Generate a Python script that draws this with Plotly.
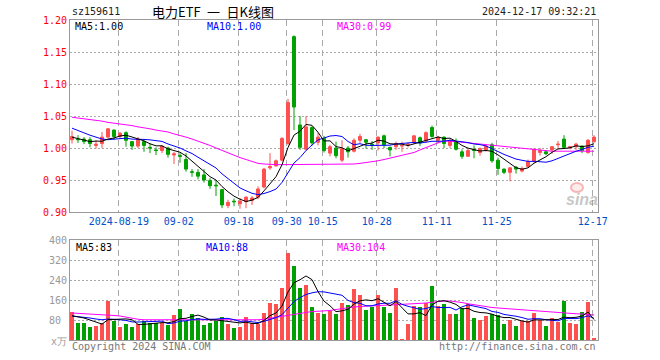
import plotly.graph_objects as go
import numpy as np

# ---------------- data ----------------
tick_idx = [8, 18, 28, 36, 42, 51, 61, 71, 87]
tick_labels = ["2024-08-19", "09-02", "09-18", "09-30", "10-15", "10-28", "11-11", "11-25", "12-17"]

open_ = [1.013, 1.014, 1.014, 1.013, 1.004, 1.007, 1.017, 1.028, 1.018, 1.024,
         1.010, 1.003, 1.010, 1.001, 0.997, 0.996, 1.000, 0.989, 0.988, 0.982,
         0.963, 0.962, 0.958, 0.949, 0.942, 0.935, 0.910, 0.917, 0.913, 0.916,
         0.918, 0.923, 0.939, 0.969, 0.972, 0.981, 1.007, 1.174, 1.036, 0.998,
         1.032, 1.009, 1.015, 0.992, 1.000, 0.981, 1.000, 0.995, 1.012, 1.013,
         1.006, 1.008, 1.019, 1.001, 1.002, 1.003, 1.005, 1.009, 1.016, 1.011,
         1.032, 1.012, 1.017, 1.004, 1.010, 0.994, 0.987, 0.998, 0.993, 0.997,
         1.005, 0.981, 0.967, 0.962, 0.970, 0.964, 0.971, 0.979, 0.993, 0.994,
         0.997, 1.005, 1.014, 1.000, 1.002, 1.003, 0.993, 1.010]
high = [1.027, 1.020, 1.017, 1.017, 1.012, 1.025, 1.031, 1.029, 1.025, 1.026,
        1.011, 1.017, 1.012, 1.007, 1.001, 1.004, 1.002, 0.994, 0.992, 0.992,
        0.967, 0.967, 0.967, 0.953, 0.949, 0.936, 0.919, 0.921, 0.922, 0.925,
        0.925, 0.940, 0.969, 0.992, 0.982, 1.017, 1.077, 1.176, 1.050, 1.050,
        1.034, 1.024, 1.019, 1.005, 1.010, 1.012, 1.003, 1.015, 1.022, 1.014,
        1.011, 1.018, 1.021, 1.002, 1.010, 1.010, 1.009, 1.020, 1.018, 1.026,
        1.035, 1.019, 1.018, 1.014, 1.015, 0.998, 0.999, 1.004, 1.001, 1.005,
        1.008, 0.985, 0.968, 0.970, 0.972, 0.971, 0.982, 0.999, 1.000, 0.996,
        1.003, 1.011, 1.020, 1.003, 1.008, 1.004, 1.014, 1.020]
low = [1.007, 1.008, 1.006, 1.001, 0.999, 1.000, 1.016, 1.013, 1.014, 1.002,
       0.997, 1.000, 0.994, 0.992, 0.989, 0.992, 0.985, 0.975, 0.977, 0.963,
       0.955, 0.951, 0.946, 0.936, 0.925, 0.906, 0.906, 0.909, 0.905, 0.906,
       0.911, 0.920, 0.937, 0.966, 0.971, 0.979, 1.005, 1.028, 0.997, 0.996,
       1.004, 1.004, 0.993, 0.987, 0.984, 0.978, 0.985, 0.993, 1.008, 0.999,
       0.997, 0.996, 1.000, 0.987, 0.997, 0.994, 1.001, 1.006, 1.003, 1.008,
       1.016, 1.008, 1.000, 1.000, 0.996, 0.983, 0.986, 0.984, 0.988, 0.994,
       0.977, 0.958, 0.959, 0.948, 0.960, 0.962, 0.970, 0.977, 0.988, 0.989,
       0.991, 0.998, 0.999, 0.998, 0.997, 0.992, 0.991, 1.008]
close = [1.018, 1.013, 1.010, 1.007, 1.006, 1.017, 1.030, 1.018, 1.023, 1.012,
         1.003, 1.014, 1.004, 1.000, 0.996, 1.003, 0.990, 0.991, 0.987, 0.967,
         0.962, 0.956, 0.950, 0.941, 0.941, 0.911, 0.915, 0.916, 0.917, 0.923,
         0.922, 0.936, 0.967, 0.971, 0.980, 1.015, 1.071, 1.064, 1.001, 1.033,
         1.008, 1.017, 0.996, 1.002, 0.988, 0.999, 0.994, 1.012, 1.018, 1.009,
         1.005, 1.017, 1.005, 0.997, 1.007, 1.004, 1.006, 1.019, 1.008, 1.024,
         1.018, 1.017, 1.007, 1.011, 0.998, 0.987, 0.996, 0.996, 0.999, 1.003,
         0.980, 0.968, 0.962, 0.969, 0.967, 0.968, 0.979, 0.998, 0.996, 0.991,
         1.002, 1.006, 1.001, 1.002, 1.006, 0.996, 1.012, 1.017]
volume = [114, 69, 69, 53, 58, 69, 158, 77, 53, 65,
          53, 64, 77, 69, 69, 69, 61, 101, 126, 77,
          105, 89, 61, 69, 77, 94, 66, 50, 54, 93,
          68, 66, 110, 150, 146, 208, 348, 295, 208, 222,
          134, 110, 103, 115, 105, 150, 142, 206, 182, 122,
          134, 182, 134, 110, 210, 3, 65, 135, 134, 150,
          218, 138, 146, 105, 105, 130, 146, 88, 81, 97,
          105, 101, 65, 81, 57, 77, 77, 110, 81, 57,
          89, 73, 158, 69, 65, 113, 154, 9]
ma30 = [1.048, 1.047, 1.046, 1.045, 1.044, 1.042, 1.040, 1.039, 1.037, 1.036,
        1.035, 1.033, 1.032, 1.030, 1.028, 1.027, 1.025, 1.022, 1.020, 1.017,
        1.014, 1.011, 1.007, 1.004, 1.000, 0.996, 0.992, 0.988, 0.985, 0.982,
        0.979, 0.976, 0.975, 0.974, 0.974, 0.974, 0.974, 0.975, 0.975, 0.975,
        0.975, 0.975, 0.975, 0.975, 0.975, 0.975, 0.975, 0.975, 0.976, 0.977,
        0.979, 0.980, 0.982, 0.984, 0.986, 0.988, 0.990, 0.993, 0.997, 1.001,
        1.005, 1.008, 1.011, 1.011, 1.010, 1.009, 1.008, 1.007, 1.006, 1.005,
        1.004, 1.003, 1.002, 1.001, 1.000, 0.999, 0.998, 0.997, 0.996, 0.995,
        0.995, 0.995, 0.995, 0.995, 0.995, 0.995, 0.995, 0.995]
ma5_head = [1.017, 1.015, 1.012, 1.010]
ma10_head = [1.031, 1.027, 1.023, 1.020, 1.017, 1.014, 1.013, 1.014, 1.014]
vol_ma30 = [108, 107, 106, 105, 104, 102, 100, 98, 96, 91,
            86, 83, 81, 81, 80, 80, 80, 80, 79, 79,
            79, 79, 78, 78, 78, 78, 78, 78, 78, 79,
            80, 81, 83, 87, 91, 95, 99, 104, 108, 111,
            114, 115, 116, 118, 122, 126, 130, 132, 134, 136,
            137, 138, 139, 140, 141, 142, 143, 145, 147, 148,
            151, 154, 156, 156, 154, 150, 145, 141, 137, 132,
            130, 128, 126, 125, 124, 122, 120, 118, 116, 113,
            111, 109, 108, 106, 105, 104, 103, 100]
vol_ma5_head = [97, 93, 88, 80]
vol_ma10_head = [96, 94, 91, 88, 84, 81, 84, 84, 81]

price_ticks = [0.90, 0.95, 1.00, 1.05, 1.10, 1.15, 1.20]
vol_ticks = [80, 160, 240, 320, 400]


def rolling(vals, n, head):
    out = list(head)
    for i in range(n - 1, len(vals)):
        out.append(float(np.mean(vals[i - n + 1:i + 1])))
    return out


idx = list(range(len(close)))
ma5 = rolling(close, 5, ma5_head)
ma10 = rolling(close, 10, ma10_head)
vma5 = rolling(volume, 5, vol_ma5_head)
vma10 = rolling(volume, 10, vol_ma10_head)

RED = "#ff5050"
GREEN = "#00a000"
BLUE = "#0000ff"
MAG = "#ff00ff"
GRID = "#aaaaaa"
BORDER = "#999999"
MONO = "DejaVu Sans Mono"

fig = go.Figure()
fig.add_trace(go.Candlestick(
    x=idx, open=open_, high=high, low=low, close=close,
    xaxis="x", yaxis="y",
    increasing=dict(line=dict(color=RED, width=1), fillcolor=RED),
    decreasing=dict(line=dict(color=GREEN, width=1), fillcolor=GREEN),
    whiskerwidth=0, showlegend=False, hoverinfo="skip"))
for vals, col in [(ma30, MAG), (ma10, BLUE), (ma5, "black")]:
    fig.add_trace(go.Scatter(x=idx, y=vals, mode="lines", line=dict(color=col, width=1),
                             xaxis="x", yaxis="y", showlegend=False, hoverinfo="skip"))

bar_colors = [RED if c >= o else GREEN for o, c in zip(open_, close)]
fig.add_trace(go.Bar(x=idx, y=volume, marker=dict(color=bar_colors, line=dict(width=0)),
                     width=0.8, xaxis="x2", yaxis="y2", showlegend=False, hoverinfo="skip"))
for vals, col in [(vol_ma30, MAG), (vma10, BLUE), (vma5, "black")]:
    fig.add_trace(go.Scatter(x=idx, y=vals, mode="lines", line=dict(color=col, width=1),
                             xaxis="x2", yaxis="y2", showlegend=False, hoverinfo="skip"))

W, H = 660, 360
PL, PR, PT, PB = 70, 598, 20, 340          # plot box, in page pixels
L, T = PL, PT
R, B = W - PR, H - PB
PW, PH = PR - PL, PB - PT


def px(x):
    return (x - PL) / PW


def py(y):
    return (PB - y) / PH


xr = [-0.333, len(close) - 0.333]
xt = [i - 0.2 for i in tick_idx]
common_x = dict(range=xr, tickvals=xt, showgrid=True, gridcolor=GRID, griddash="6px,4px",
                gridwidth=1, showline=True, mirror=True, linecolor=BORDER, linewidth=1,
                zeroline=False, ticks="", fixedrange=True)

fig.update_layout(
    width=W, height=H, margin=dict(l=L, r=R, t=T, b=B, autoexpand=False),
    paper_bgcolor="white", plot_bgcolor="white", boxgap=0.3,
    bargap=0,
    xaxis=dict(domain=[0, 1], anchor="y", ticktext=tick_labels,
               tickfont=dict(family=MONO, size=10, color="#0050c8"),
               rangeslider=dict(visible=False), **common_x),
    xaxis2=dict(domain=[0, 1], anchor="y2", showticklabels=False, **common_x),
    yaxis=dict(domain=[py(212), 1], anchor="x", range=[0.90, 1.20],
               tickvals=price_ticks, ticktext=[f"{v:.2f}" for v in price_ticks],
               tickfont=dict(family=MONO, size=10, color="#ff0000"),
               showgrid=True, gridcolor=GRID, griddash="2px,2px", showline=True, mirror=True,
               linecolor=BORDER, linewidth=1, zeroline=False, ticks="", fixedrange=True),
    yaxis2=dict(domain=[0, py(240)], anchor="x2", range=[0, 400],
                tickvals=vol_ticks, ticktext=[str(v).ljust(3, "\u00a0") for v in vol_ticks],
                tickfont=dict(family=MONO, size=10, color="#999999"),
                showgrid=True, gridcolor=GRID, griddash="2px,2px", showline=True, mirror=True,
                linecolor=BORDER, linewidth=1, zeroline=False, ticks="", fixedrange=True),
)

ann = []


def text(x, y, s, color, xanchor="left", size=10, family=MONO, **kw):
    ann.append(dict(x=px(x), y=py(y), xref="paper", yref="paper", text=s, showarrow=False,
                    xanchor=xanchor, yanchor="middle",
                    font=dict(family=family, size=size, color=color), **kw))


text(70, 11, "sz159611", "#222222")
text(150, 11, "电力ETF\u2002一\u2002日K线图", "#000000", size=13, family="Noto Sans CJK SC")
text(598, 11, "2024-12-17 09:32:21", "#222222", xanchor="right")
text(73, 27, "MA5:1.00", "#000000")
text(205, 27, "MA10:1.00", BLUE)
text(335, 27, "MA30:0.99", MAG)
text(74, 247, "MA5:83", "#000000")
text(204, 247, "MA10:88", BLUE)
text(335, 247, "MA30:104", MAG)
text(49, 341, "x万", "#999999")
text(70, 346, "Copyright 2024 SINA.COM", "#777777")
text(598, 346, "http://finance.sina.com.cn", "#777777", xanchor="right")
text(582, 199, "<b><i>sina</i></b>", "rgba(150,150,150,0.55)", xanchor="center", size=16,
     family="Liberation Sans")
fig.update_layout(annotations=ann)

# faint eye of the watermark logo
fig.add_shape(type="circle", xref="paper", yref="paper",
              x0=px(571), x1=px(583), y0=py(192), y1=py(183),
              line=dict(color="rgba(240,140,140,0.6)", width=2),
              fillcolor="rgba(250,200,200,0.35)")

# the page's default 8px body margin would shift the chart; remove it
fig.write_html("out.html", config={"displayModeBar": False, "staticPlot": True},
               post_script="document.body.style.margin='0px';")
